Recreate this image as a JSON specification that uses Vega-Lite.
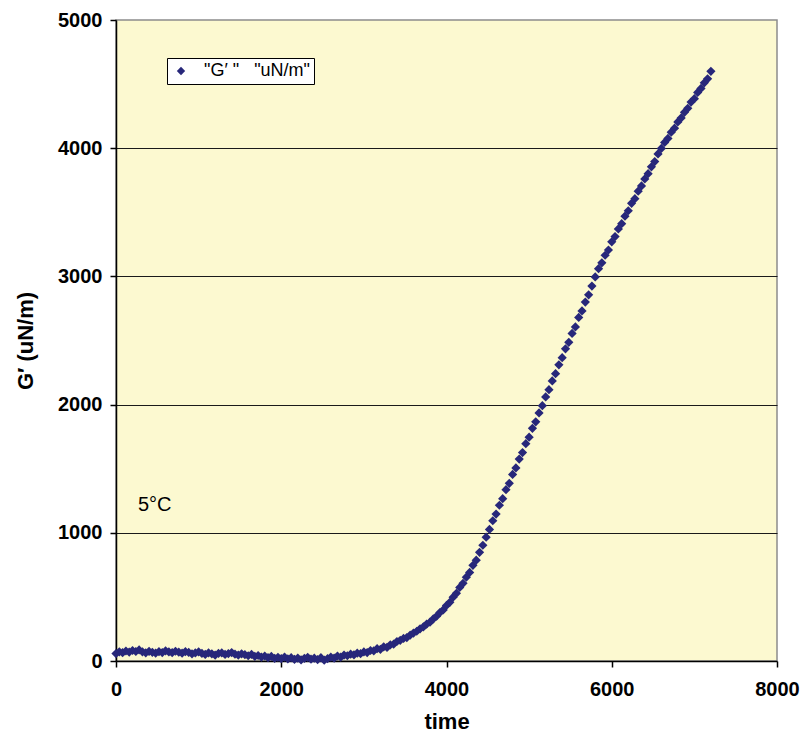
{
  "$schema": "https://vega.github.io/schema/vega-lite/v6.json",
  "width": 661,
  "height": 641,
  "autosize": {"type": "none"},
  "padding": {"left": 116, "top": 20, "right": 25, "bottom": 72},
  "background": "white",
  "config": {
    "font": "Liberation Sans",
    "view": {"fill": "#FCF9D0", "stroke": "#8c8c8c", "strokeWidth": 1.5}
  },
  "datasets": {
    "g": [
      {"t":0,"g":58},{"t":40,"g":72},{"t":80,"g":65},{"t":120,"g":78},{"t":160,"g":70},{"t":200,"g":82},{"t":240,"g":74},{"t":280,"g":86},{"t":320,"g":72},{"t":360,"g":64},
      {"t":400,"g":75},{"t":440,"g":68},{"t":480,"g":62},{"t":520,"g":73},{"t":560,"g":66},{"t":600,"g":79},{"t":640,"g":71},{"t":680,"g":65},{"t":720,"g":76},{"t":760,"g":69},
      {"t":800,"g":61},{"t":840,"g":73},{"t":880,"g":67},{"t":920,"g":56},{"t":960,"g":63},{"t":1000,"g":71},{"t":1040,"g":59},{"t":1080,"g":51},{"t":1120,"g":63},{"t":1160,"g":56},
      {"t":1200,"g":46},{"t":1240,"g":59},{"t":1280,"g":63},{"t":1320,"g":51},{"t":1360,"g":58},{"t":1400,"g":66},{"t":1440,"g":53},{"t":1480,"g":46},{"t":1520,"g":56},{"t":1560,"g":49},
      {"t":1600,"g":41},{"t":1640,"g":51},{"t":1680,"g":36},{"t":1720,"g":43},{"t":1760,"g":31},{"t":1800,"g":39},{"t":1840,"g":26},{"t":1880,"g":36},{"t":1920,"g":21},{"t":1960,"g":29},
      {"t":2000,"g":19},{"t":2040,"g":31},{"t":2080,"g":16},{"t":2120,"g":26},{"t":2160,"g":13},{"t":2200,"g":23},{"t":2240,"g":9},{"t":2280,"g":21},{"t":2320,"g":29},{"t":2360,"g":14},
      {"t":2400,"g":22},{"t":2440,"g":11},{"t":2480,"g":26},{"t":2520,"g":6},{"t":2560,"g":18},{"t":2600,"g":31},{"t":2640,"g":22},{"t":2680,"g":39},{"t":2720,"g":30},{"t":2760,"g":46},
      {"t":2800,"g":41},{"t":2840,"g":53},{"t":2880,"g":48},{"t":2920,"g":61},{"t":2960,"g":57},{"t":3000,"g":71},{"t":3040,"g":66},{"t":3080,"g":82},{"t":3120,"g":79},{"t":3160,"g":96},
      {"t":3200,"g":91},{"t":3240,"g":111},{"t":3280,"g":106},{"t":3320,"g":126},{"t":3360,"g":131},{"t":3400,"g":152},{"t":3440,"g":161},{"t":3480,"g":176},{"t":3520,"g":183},{"t":3560,"g":201},
      {"t":3600,"g":218},{"t":3640,"g":232},{"t":3680,"g":251},{"t":3720,"g":266},{"t":3760,"g":288},{"t":3800,"g":303},{"t":3840,"g":328},{"t":3880,"g":349},{"t":3920,"g":378},{"t":3960,"g":398},
      {"t":4000,"g":433},{"t":4040,"g":458},{"t":4080,"g":498},{"t":4120,"g":528},{"t":4160,"g":574},{"t":4200,"g":606},{"t":4240,"g":654},{"t":4280,"g":691},{"t":4320,"g":746},{"t":4360,"g":786},
      {"t":4400,"g":848},{"t":4440,"g":903},{"t":4480,"g":966},{"t":4520,"g":1026},{"t":4560,"g":1094},{"t":4600,"g":1146},{"t":4640,"g":1215},{"t":4680,"g":1266},{"t":4720,"g":1336},{"t":4760,"g":1386},
      {"t":4800,"g":1455},{"t":4840,"g":1506},{"t":4880,"g":1575},{"t":4920,"g":1626},{"t":4960,"g":1695},{"t":5000,"g":1746},{"t":5040,"g":1815},{"t":5080,"g":1866},{"t":5120,"g":1935},{"t":5160,"g":1992},
      {"t":5200,"g":2060},{"t":5240,"g":2116},{"t":5280,"g":2185},{"t":5320,"g":2241},{"t":5360,"g":2310},{"t":5400,"g":2366},{"t":5440,"g":2435},{"t":5480,"g":2486},{"t":5520,"g":2555},{"t":5560,"g":2606},
      {"t":5600,"g":2680},{"t":5640,"g":2731},{"t":5680,"g":2800},{"t":5720,"g":2856},{"t":5760,"g":2925},{"t":5800,"g":2996},{"t":5840,"g":3060},{"t":5880,"g":3106},{"t":5920,"g":3165},{"t":5960,"g":3206},
      {"t":6000,"g":3270},{"t":6040,"g":3311},{"t":6080,"g":3370},{"t":6120,"g":3411},{"t":6160,"g":3470},{"t":6200,"g":3512},{"t":6240,"g":3570},{"t":6280,"g":3606},{"t":6320,"g":3665},{"t":6360,"g":3706},
      {"t":6400,"g":3760},{"t":6440,"g":3801},{"t":6480,"g":3855},{"t":6520,"g":3896},{"t":6560,"g":3955},{"t":6600,"g":3998},{"t":6640,"g":4045},{"t":6680,"g":4076},{"t":6720,"g":4125},{"t":6760,"g":4156},
      {"t":6800,"g":4205},{"t":6840,"g":4236},{"t":6880,"g":4280},{"t":6920,"g":4311},{"t":6960,"g":4360},{"t":7000,"g":4386},{"t":7040,"g":4435},{"t":7080,"g":4466},{"t":7120,"g":4510},{"t":7160,"g":4541},
      {"t":7200,"g":4600}
    ],
    "note": [{"t": 266, "g": 1217, "label": "5°C"}]
  },
  "layer": [
    {
      "data": {"name": "g"},
      "transform": [{"calculate": "'\"G′ \"\u00a0\u00a0 \"uN/m\"\u00a0\u00a0\u00a0\u00a0\u00a0'", "as": "series"}],
      "mark": {"type": "point", "shape": "diamond", "filled": true, "opacity": 1, "size": 85},
      "encoding": {
        "x": {
          "field": "t", "type": "quantitative",
          "scale": {"domain": [0, 8000], "nice": false, "zero": true},
          "axis": {
            "values": [0, 2000, 4000, 6000, 8000], "format": "d",
            "title": "time", "titleFontSize": 22, "titleFontWeight": "bold", "titleColor": "black", "titlePadding": 12,
            "labelFontSize": 20, "labelFontWeight": "bold", "labelColor": "black", "labelPadding": 12,
            "domainColor": "black", "domainWidth": 1.5, "tickColor": "black", "tickSize": 6, "tickWidth": 1.5,
            "grid": false, "labelFlush": false
          }
        },
        "y": {
          "field": "g", "type": "quantitative",
          "scale": {"domain": [0, 5000], "nice": false},
          "axis": {
            "values": [0, 1000, 2000, 3000, 4000, 5000], "format": "d",
            "title": "G′ (uN/m)", "titleFontSize": 22, "titleFontWeight": "bold", "titleColor": "black", "titlePadding": 20,
            "labelFontSize": 20, "labelFontWeight": "bold", "labelColor": "black", "labelPadding": 8,
            "domainColor": "black", "domainWidth": 1.5, "tickColor": "black", "tickSize": 6, "tickWidth": 1.5,
            "grid": true,
            "gridColor": {"condition": {"test": "datum.value === 5000 || datum.value === 0", "value": "transparent"}, "value": "#1a1a1a"},
            "gridWidth": 1, "gridOpacity": 1
          }
        },
        "color": {
          "field": "series", "type": "nominal",
          "scale": {"range": ["#27277A"]},
          "legend": {
            "title": null, "orient": "none", "legendX": 51, "legendY": 38,
            "symbolType": "diamond", "symbolSize": 70, "symbolOffset": 1,
            "labelFontSize": 18, "labelColor": "black", "labelOffset": 14,
            "padding": 4, "fillColor": "white", "strokeColor": "black", "cornerRadius": 0
          }
        }
      }
    },
    {
      "data": {"name": "note"},
      "mark": {"type": "text", "align": "left", "baseline": "middle", "fontSize": 20, "color": "black"},
      "encoding": {
        "x": {"field": "t", "type": "quantitative"},
        "y": {"field": "g", "type": "quantitative"},
        "text": {"field": "label"}
      }
    }
  ]
}
